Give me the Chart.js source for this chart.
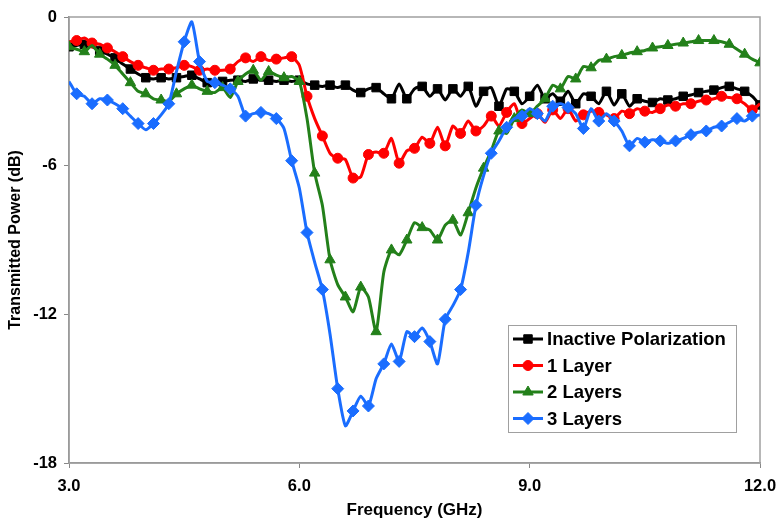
<!DOCTYPE html>
<html>
<head>
<meta charset="utf-8">
<script src="https://cdn.jsdelivr.net/npm/chart.js@4"></script>
<style>
  html, body { margin: 0; padding: 0; background: #fff; }
  #wrap { width: 777px; height: 523px; }
</style>
</head>
<body>
<div id="wrap"><canvas id="powerChart" width="777" height="523"></canvas></div>
<script>
// Frequency grid (GHz)
const freq = [
  3.0, 3.1, 3.2, 3.3, 3.4, 3.5, 3.6, 3.7, 3.8, 3.9,
  4.0, 4.1, 4.2, 4.3, 4.4, 4.5, 4.6, 4.7, 4.8, 4.9,
  5.0, 5.1, 5.2, 5.3, 5.4, 5.5, 5.6, 5.7, 5.8, 5.9,
  6.0, 6.1, 6.2, 6.3, 6.4, 6.5, 6.6, 6.7, 6.8, 6.9,
  7.0, 7.1, 7.2, 7.3, 7.4, 7.5, 7.6, 7.7, 7.8, 7.9,
  8.0, 8.1, 8.2, 8.3, 8.4, 8.5, 8.6, 8.7, 8.8, 8.9,
  9.0, 9.1, 9.2, 9.3, 9.4, 9.5, 9.6, 9.7, 9.8, 9.9,
  10.0, 10.1, 10.2, 10.3, 10.4, 10.5, 10.6, 10.7, 10.8, 10.9,
  11.0, 11.1, 11.2, 11.3, 11.4, 11.5, 11.6, 11.7, 11.8, 11.9,
  12.0
];

// Transmitted power (dB)
const inactive = [
  -1.2, -1.15, -1.1, -1.2, -1.35, -1.5, -1.65, -1.9, -2.1, -2.3,
  -2.45, -2.5, -2.45, -2.5, -2.45, -2.4, -2.35, -2.5, -2.65, -2.6,
  -2.6, -2.55, -2.55, -2.6, -2.5, -2.55, -2.55, -2.6, -2.55, -2.6,
  -2.55, -2.7, -2.75, -2.8, -2.75, -2.85, -2.75, -2.95, -3.05, -2.9,
  -2.85, -3.1, -3.3, -2.7, -3.3, -2.9, -2.8, -3.2, -2.9, -3.35,
  -2.9, -3.2, -2.8, -3.6, -3.0, -2.85, -3.6, -2.9, -3.0, -3.5,
  -3.2, -2.75, -3.3, -3.1, -3.4, -3.0, -3.5, -3.1, -3.2, -3.5,
  -3.0, -3.55, -3.1, -3.6, -3.3, -3.4, -3.45, -3.3, -3.35, -3.3,
  -3.2, -3.15, -3.05, -3.0, -2.95, -2.85, -2.8, -2.9, -3.0, -3.2,
  -3.55
];

const layer1 = [
  -1.0, -0.95, -0.85, -1.05, -1.1, -1.25, -1.4, -1.6, -1.8, -1.95,
  -2.05, -2.15, -2.1, -2.1, -2.05, -1.95, -2.0, -2.15, -2.1, -2.15,
  -2.15, -2.1, -1.8, -1.65, -1.8, -1.6, -1.75, -1.7, -1.65, -1.6,
  -1.95, -3.2, -4.1, -4.8, -5.5, -5.7, -5.75, -6.5, -6.45, -5.55,
  -5.45, -5.5, -4.9, -5.9, -5.4, -5.3, -4.85, -5.1, -4.45, -5.2,
  -4.4, -4.7, -4.2, -4.6, -4.4, -4.0, -4.4, -3.85, -3.5, -4.3,
  -4.1, -3.9, -4.25, -3.75, -4.1, -3.7, -4.2, -3.95, -3.8, -3.85,
  -3.95, -4.1, -3.8, -3.9, -3.7, -3.8, -3.85, -3.7, -3.55, -3.6,
  -3.5, -3.5, -3.4, -3.35, -3.3, -3.2, -3.25, -3.3, -3.5, -3.75,
  -3.5
];

const layer2 = [
  -1.2, -1.3, -1.4, -1.15, -1.5, -1.7, -1.95, -2.3, -2.65, -3.0,
  -3.1, -3.3, -3.35, -3.4, -3.1, -2.9, -2.75, -2.9, -3.0, -3.05,
  -2.85, -3.25, -2.6, -2.3, -2.15, -2.55, -2.2, -2.35, -2.45, -2.4,
  -2.6, -4.1, -6.3, -7.6, -9.8, -10.8, -11.3, -11.9, -10.9, -11.3,
  -12.7, -10.3, -9.4, -9.6, -9.0, -8.3, -8.5, -8.6, -9.0, -8.4,
  -8.2, -8.8, -7.9, -6.9, -6.1, -5.4, -4.6, -4.7, -4.1, -3.75,
  -3.9, -3.6, -3.3, -2.75, -2.9, -2.4, -2.5, -2.0, -2.05, -1.75,
  -1.7, -1.6, -1.55, -1.45, -1.4, -1.35, -1.25, -1.2, -1.15, -1.1,
  -1.05, -1.0, -0.95, -0.95, -0.95, -1.0, -1.1, -1.3, -1.5, -1.7,
  -1.85
];

const layer3 = [
  -2.6, -3.1, -3.2, -3.5, -3.3, -3.35, -3.5, -3.7, -4.0, -4.3,
  -4.55, -4.3, -3.95, -3.5, -2.2, -1.0, -0.2, -1.8, -2.6, -2.65,
  -2.75, -2.9, -3.2, -4.0, -3.9, -3.85, -3.9, -4.1, -4.5, -5.8,
  -6.9, -8.7, -9.9, -11.0, -12.8, -15.0, -16.5, -15.9, -15.3, -15.7,
  -14.6, -14.0, -13.2, -13.9, -12.7, -12.9, -12.55, -13.1, -14.0, -12.2,
  -11.65, -11.0, -9.5, -7.6, -6.4, -5.5, -5.0, -4.45, -4.1, -4.0,
  -3.7, -3.9, -4.2, -3.6, -3.5, -3.65, -3.9, -4.5, -3.7, -4.2,
  -3.9, -4.2, -4.6, -5.2, -4.9, -5.05, -4.95, -5.0, -5.1, -5.0,
  -4.9, -4.75, -4.65, -4.6, -4.45, -4.4, -4.25, -4.1, -4.2, -4.0,
  -3.95
];

const seriesNames = ['Inactive Polarization', '1 Layer', '2 Layers', '3 Layers'];
const xTicks = [3, 6, 9, 12];
const yTicks = [-18, -12, -6, 0];

const FONT = "'Liberation Sans', Arial, sans-serif";

const styles = [
  { color: '#000000', point: 'rect', radius: 6 },
  { color: '#ff0000', point: 'circle', radius: 5 },
  { color: '#23801a', point: 'triangle', radius: 6 },
  { color: '#1a6dff', point: 'rectRot', radius: 6 },
];

function toPoints(values) {
  return values.map((v, i) => ({ x: freq[i], y: v }));
}

function makeDataset(label, values, idx) {
  const s = styles[idx];
  return {
    label: label,
    data: toPoints(values),
    borderColor: s.color,
    backgroundColor: s.color,
    borderWidth: 3,
    tension: 0.2,
    pointStyle: s.point,
    pointRadius: (c) => ((c.dataIndex + idx) % 2 === 0 ? s.radius : 0),
    pointBorderWidth: 1,
    pointHoverRadius: 0,
    order: 4 - idx,
  };
}

// Box around the plot area plus the in-plot legend
const frameAndLegend = {
  id: 'frameAndLegend',
  beforeDatasetsDraw(chart) {
    const { ctx, chartArea: a } = chart;
    ctx.save();
    ctx.strokeStyle = '#a0a0a0';
    ctx.lineWidth = 1.5;
    ctx.strokeRect(a.left, a.top, a.right - a.left, a.bottom - a.top);
    ctx.restore();
  },
  afterDraw(chart) {
    const ctx = chart.ctx;
    const bx = 508, by = 325, bw = 228, bh = 107;
    ctx.save();
    ctx.fillStyle = '#fff';
    ctx.fillRect(bx, by, bw, bh);
    ctx.strokeStyle = '#a0a0a0';
    ctx.lineWidth = 1;
    ctx.strokeRect(bx + 0.5, by + 0.5, bw, bh);
    ctx.font = `bold 18.5px ${FONT}`;
    ctx.textBaseline = 'middle';
    seriesNames.forEach((name, i) => {
      const s = styles[i];
      const cy = by + 14 + i * 26.5;
      ctx.strokeStyle = s.color;
      ctx.fillStyle = s.color;
      ctx.lineWidth = 3;
      ctx.beginPath();
      ctx.moveTo(bx + 5, cy);
      ctx.lineTo(bx + 35, cy);
      ctx.stroke();
      ctx.lineWidth = 1;
      Chart.helpers.drawPoint(ctx, { pointStyle: s.point, radius: s.radius, rotation: 0, borderWidth: 1 }, bx + 20, cy);
      ctx.fillStyle = '#000';
      ctx.fillText(name, bx + 39, cy + 1);
    });
    ctx.restore();
  },
};

const ctx = document.getElementById('powerChart').getContext('2d');
new Chart(ctx, {
  type: 'line',
  data: {
    datasets: [
      makeDataset(seriesNames[0], inactive, 0),
      makeDataset(seriesNames[1], layer1, 1),
      makeDataset(seriesNames[2], layer2, 2),
      makeDataset(seriesNames[3], layer3, 3),
    ],
  },
  options: {
    responsive: false,
    animation: false,
    layout: { padding: { top: 17, right: 17, left: 0, bottom: 0 } },
    plugins: {
      legend: { display: false },
      tooltip: { enabled: false },
    },
    scales: {
      x: {
        type: 'linear',
        min: xTicks[0],
        max: xTicks[xTicks.length - 1],
        afterBuildTicks: (s) => { s.ticks = xTicks.map(v => ({ value: v })); },
        afterFit: (s) => { s.height = 60; s.paddingLeft = 0; s.paddingRight = 0; },
        ticks: {
          color: '#000',
          font: { family: FONT, size: 16.5, weight: 'bold' },
          padding: 9,
          maxRotation: 0,
          callback: (v) => Number(v).toFixed(1),
        },
        grid: { drawOnChartArea: false, drawTicks: true, tickLength: 5, color: '#888' },
        border: { color: '#888', width: 1.5 },
        title: {
          display: true,
          text: 'Frequency (GHz)',
          color: '#000',
          font: { family: FONT, size: 17, weight: 'bold' },
          padding: { top: 0, bottom: 2 },
        },
      },
      y: {
        min: yTicks[0],
        max: yTicks[yTicks.length - 1],
        afterBuildTicks: (s) => { s.ticks = yTicks.map(v => ({ value: v })); },
        afterFit: (s) => { s.width = 69; s.paddingTop = 0; s.paddingBottom = 0; },
        ticks: {
          color: '#000',
          font: { family: FONT, size: 16.5, weight: 'bold' },
          padding: 7,
        },
        grid: { drawOnChartArea: false, drawTicks: true, tickLength: 5, color: '#888' },
        border: { color: '#888', width: 1.5 },
        title: {
          display: true,
          text: 'Transmitted Power (dB)',
          color: '#000',
          font: { family: FONT, size: 16, weight: 'bold' },
          padding: { top: 6, bottom: 0 },
        },
      },
    },
  },
  plugins: [frameAndLegend],
});
</script>
</body>
</html>
